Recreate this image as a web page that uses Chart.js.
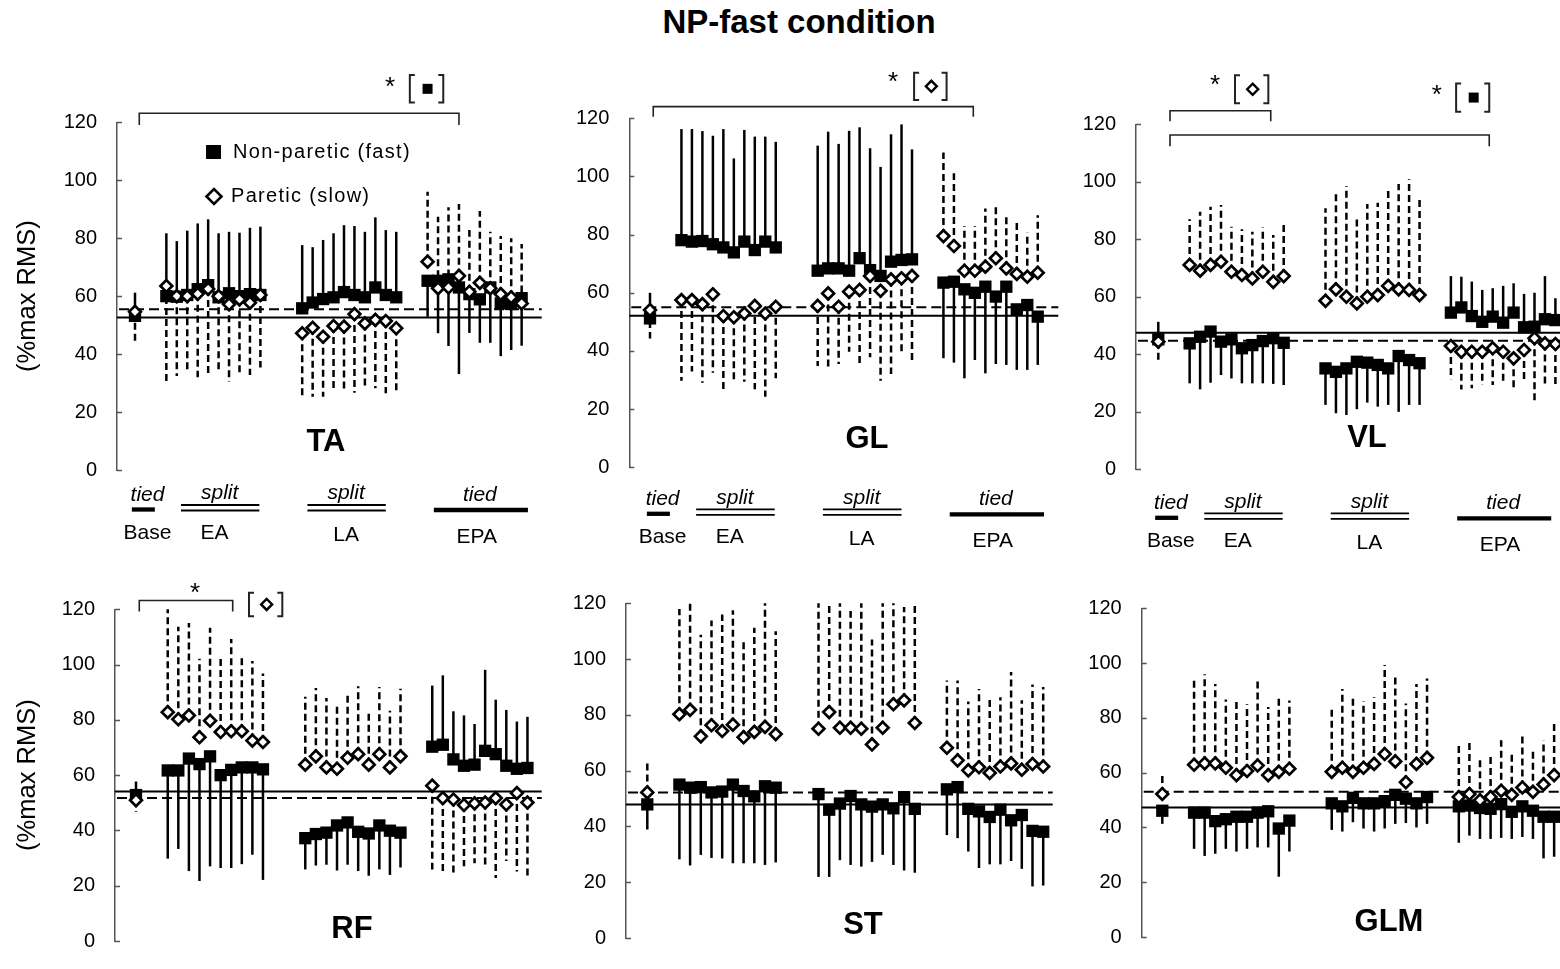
<!DOCTYPE html>
<html><head><meta charset="utf-8">
<script src="https://cdn.jsdelivr.net/npm/chart.js@4.4.1/dist/chart.umd.min.js"></script>
<style>
html,body{margin:0;padding:0;width:1560px;height:969px;overflow:hidden;background:#fff;}
#title{position:absolute;left:19px;width:1560px;top:3px;text-align:center;font:bold 33px "Liberation Sans",Arial,sans-serif;color:#000;}
canvas{position:absolute;}
</style></head><body>
<div id="title">NP-fast condition</div>
<script>
// ---------- data ----------
const phaseNames = ['Base', 'EA', 'LA', 'EPA'];
const phaseFirstIndex = [0, 3, 16, 28];
const yTickValues = [0, 20, 40, 60, 80, 100, 120];
const muscleNames = ['TA', 'GL', 'VL', 'RF', 'ST', 'GLM'];
const seriesNames = ['Non-paretic (fast)', 'Paretic (slow)'];

// order in each array: Base, EA x10, LA x10, EPA x10 (VL: EPA x11)
const TA_np    = [53.2, 60.0,59.8,60.4,62.4,63.8,59.6,61.0,60.0,60.7,60.4, 55.8,57.8,59.0,59.6,61.4,60.4,59.6,63.0,60.4,59.6, 65.3,65.3,65.8,63.0,60.7,58.9,63.0,57.5,57.3,59.3];
const TA_npEnd = [61.2, 81.7,79.0,82.6,85.1,86.5,81.7,82.2,81.9,83.6,84.0, 77.6,76.9,79.4,81.7,84.5,84.2,82.2,87.2,82.8,82.2, 52.9,47.2,42.8,33.1,47.3,43.9,43.9,39.3,41.4,42.9];
const TA_p     = [54.6, 63.5,60.0,60.0,60.8,62.5,60.0,57.2,58.9,57.7,60.4, 47.2,49.1,46.0,49.7,49.5,53.8,50.6,51.8,51.4,48.9, 71.9,62.7,63.0,67.0,61.5,64.6,62.7,60.7,59.6,57.5];
const TA_pEnd  = [43.5, 30.1,32.4,33.4,32.0,33.4,33.4,30.5,32.8,32.8,35.4, 25.1,25.3,25.3,27.4,27.6,26.7,28.2,28.2,26.5,26.7, 96.0,87.4,90.7,91.8,82.8,89.4,82.2,80.8,80.0,78.0];

const GL_np    = [51.2, 78.1,77.6,77.8,76.7,75.6,73.9,77.6,74.7,77.6,75.6, 67.6,68.4,68.4,67.6,71.9,67.8,65.8,70.7,71.3,71.5, 63.5,63.8,61.2,60.0,62.1,58.7,62.1,54.3,55.8,51.8];
const GL_npEnd = [60.0, 116.3,116.3,115.6,114.0,116.3,106.2,116.0,113.7,113.7,111.9, 110.6,115.4,111.2,115.7,116.9,109.7,103.3,114.5,117.9,109.3, 37.5,36.0,30.6,36.9,32.3,35.5,35.2,33.5,33.5,35.2];
const GL_p     = [54.1, 57.5,57.5,56.1,59.5,52.0,51.6,52.9,55.5,52.9,55.2, 55.5,59.8,55.2,60.4,61.0,65.8,60.7,64.6,65.0,65.8, 79.5,76.1,67.6,67.6,69.0,71.9,68.4,66.5,65.5,66.9];
const GL_pEnd  = [44.3, 29.8,32.9,29.1,32.5,25.6,30.0,29.4,26.8,24.3,30.6, 34.8,34.0,35.5,39.7,35.5,37.8,29.8,32.1,39.2,36.9, 108.2,101.1,83.0,83.0,89.0,89.6,86.2,85.4,80.7,86.7];

const VL_np    = [45.2, 43.8,46.1,47.9,44.4,45.2,42.1,43.2,44.6,45.6,44.0, 35.1,33.9,35.1,37.4,37.1,36.3,35.1,39.4,38.0,36.9, 54.5,56.3,53.3,51.3,53.1,51.0,54.5,49.4,49.6,52.2,51.9];
const VL_npEnd = [51.3, 29.9,27.8,30.1,32.8,31.6,29.9,29.9,29.9,29.7,29.3, 22.4,19.5,18.9,20.9,23.2,21.8,22.4,20.0,22.4,22.4, 67.2,67.0,65.3,62.4,63.0,63.8,64.7,61.0,61.4,67.2,59.5];
const VL_p     = [44.4, 71.1,69.1,71.1,72.2,68.7,67.6,66.4,68.7,65.2,67.2, 58.6,62.6,60.0,57.7,60.0,60.6,63.8,62.6,62.4,60.6, 42.9,40.9,40.9,40.9,42.1,40.9,38.6,41.5,45.6,43.8,43.6];
const VL_pEnd  = [37.4, 87.0,89.6,91.3,91.9,84.4,83.5,82.6,84.2,81.5,86.1, 90.8,96.2,98.5,87.3,92.3,92.7,97.7,99.2,100.9,93.7, 31.3,27.8,28.2,29.3,29.3,29.9,28.5,30.5,22.7,28.7,28.5];

const RF_np    = [52.8, 61.7,61.7,66.0,64.0,66.8,60.0,61.9,62.8,62.8,62.1, 37.2,38.7,39.2,41.8,42.9,39.5,38.9,41.8,39.9,39.2, 70.3,71.0,65.7,63.4,63.8,68.8,67.6,63.4,62.3,62.6];
const RF_npEnd = [57.7, 29.8,33.3,25.3,21.7,27.0,26.4,26.4,27.8,31.2,22.1, 25.9,27.3,27.6,25.5,27.6,25.3,23.6,25.9,23.9,26.6, 92.4,96.1,83.1,81.6,78.5,98.1,87.3,83.6,79.4,81.1];
const RF_p     = [50.9, 82.8,80.2,81.6,73.7,79.7,75.6,75.9,75.9,72.5,72.0, 63.8,66.8,62.8,62.3,66.3,67.6,63.8,67.6,62.8,66.8, 56.2,51.7,51.2,49.2,49.8,50.1,51.7,49.4,53.5,50.1];
const RF_pEnd  = [46.7, 120.0,113.7,115.0,102.1,113.3,102.9,109.3,102.9,101.3,96.8, 88.4,91.5,87.9,85.6,90.0,92.2,83.3,91.9,83.3,91.3, 25.9,24.4,24.7,27.0,28.1,27.0,22.8,28.9,25.1,23.6];

const ST_np    = [47.9, 55.0,53.9,54.1,52.2,52.5,55.0,52.7,50.8,54.4,53.9, 51.6,46.0,48.2,50.9,47.9,47.1,47.9,46.5,50.5,46.3, 53.3,54.1,46.3,45.4,43.4,46.0,42.2,44.1,38.4,38.1];
const ST_npEnd = [38.9, 28.2,26.0,29.8,28.7,28.5,26.8,26.8,26.8,26.2,27.1, 21.9,21.9,27.9,26.2,25.6,27.3,29.8,26.2,24.2,23.4, 36.9,35.8,31.0,25.1,26.4,26.4,27.6,24.8,18.5,18.8];
const ST_p     = [52.2, 80.2,81.8,72.3,76.3,74.2,76.5,72.0,73.9,75.7,73.1, 75.0,81.0,75.4,75.4,75.0,69.4,75.4,83.8,85.2,77.1, 68.2,63.7,60.1,61.2,59.2,61.5,62.6,60.3,62.4,61.5];
const ST_pEnd  = [63.7, 118.0,120.0,108.7,113.8,116.0,117.5,107.3,111.2,120.0,110.0, 120.0,119.4,120.0,117.2,120.0,107.0,120.0,120.0,118.7,119.1, 92.3,92.3,84.8,89.3,86.3,86.3,95.4,85.2,90.9,90.0];

const GLM_np    = [46.1, 45.4,45.4,42.3,43.0,43.9,43.9,45.4,45.9,39.6,42.5, 48.8,47.7,50.8,48.8,48.8,49.6,51.9,50.5,48.8,51.1, 47.7,48.0,47.1,46.8,48.5,45.7,47.7,46.1,43.9,43.9];
const GLM_npEnd = [41.3, 32.2,29.6,30.4,32.2,31.2,32.2,32.7,32.7,22.0,31.2, 39.1,38.5,41.9,39.6,38.5,39.6,41.3,41.6,40.0,41.3, 34.4,37.0,35.8,35.8,36.2,35.8,36.5,35.8,28.7,29.3];
const GLM_p     = [52.2, 62.9,63.4,63.4,61.8,59.1,60.6,62.6,59.1,60.3,61.4, 60.3,61.8,60.3,61.8,63.2,66.8,64.1,56.5,63.2,65.4, 51.1,52.2,49.9,51.1,53.4,51.9,54.6,53.0,55.7,59.1];
const GLM_pEnd  = [59.7, 94.4,95.9,92.4,86.7,86.1,85.0,94.7,84.0,88.1,86.3, 84.4,90.5,88.4,86.1,87.5,99.3,95.9,85.2,92.4,94.4, 71.2,71.8,66.0,66.8,71.8,67.5,74.0,69.1,71.8,78.7];

// baseline reference levels (solid = non-paretic, dashed = paretic)
const refLineNP = [52.6, 52.1, 47.5, 54.1, 47.9, 47.3];
const refLineP  = [55.5, 55.0, 44.7, 51.7, 52.2, 53.0];

const seriesByMuscle = {
  TA: [TA_np, TA_npEnd, TA_p, TA_pEnd], GL: [GL_np, GL_npEnd, GL_p, GL_pEnd], VL: [VL_np, VL_npEnd, VL_p, VL_pEnd],
  RF: [RF_np, RF_npEnd, RF_p, RF_pEnd], ST: [ST_np, ST_npEnd, ST_p, ST_pEnd], GLM: [GLM_np, GLM_npEnd, GLM_p, GLM_pEnd]
};

// ---------- layout (page pixels) ----------
const FONT = '"Liberation Sans", Arial, Helvetica, sans-serif';
const geom = {
  TA:  {l:117,   r:541.7,  t:122.3, b:470,   base:135,    unit:10.45, yTitle:true,  top:true, name:[326,442],  phaseDy:0},
  GL:  {l:629.3, r:1058.3, t:118.3, b:467.3, base:650,    unit:10.48, yTitle:false, top:true, name:[867,439],  phaseDy:7},
  VL:  {l:1136,  r:1576,   t:124.3, b:469.3, base:1158.3, unit:10.45, yTitle:false, top:true, name:[1367,438], phaseDy:9},
  RF:  {l:115,   r:541.7,  t:609.3, b:960.7, base:136,    unit:10.58, yTitle:true,  top:false, name:[352,929]},
  ST:  {l:626,   r:1052.7, t:603.3, b:957.3, base:647.3,  unit:10.7,  yTitle:false, top:false, name:[863,925]},
  GLM: {l:1141.7,r:1580,   t:608.3, b:956.7, base:1162.3, unit:10.59, yTitle:false, top:false, name:[1389,922]}
};
const notes = {
  TA: [{k:'bracket',x1:0.41,x2:31.0,y:123.1,drop:4},{k:'star',x:24.4,y:134.6},{k:'box',x1:26.3,x2:29.5,y1:126.8,y2:136.3,sym:'square'}],
  GL: [{k:'bracket',x1:0.31,x2:30.85,y:124.0,drop:3.5},{k:'star',x:23.2,y:134.9},{k:'box',x1:25.2,x2:28.3,y1:126.3,y2:135.7,sym:'diamond'}],
  VL: [{k:'bracket',x1:1.12,x2:10.76,y:124.7,drop:3.6},{k:'star',x:5.43,y:136.1},{k:'box',x1:7.34,x2:10.53,y1:127.3,y2:137.1,sym:'diamond'},
       {k:'bracket',x1:1.12,x2:31.67,y:116.3,drop:3.9},{k:'star',x:26.64,y:132.6},{k:'box',x1:28.5,x2:31.67,y1:124.4,y2:134.2,sym:'square'}],
  RF: [{k:'bracket',x1:0.31,x2:9.14,y:123.2,drop:4},{k:'star',x:5.58,y:128.3},{k:'box',x1:10.68,x2:13.83,y1:117.5,y2:126.0,sym:'diamond'}],
  ST: [], GLM: []
};

function xPositions(n) {
  const counts = [1, 10, 10, n - 21];
  const xs = [];
  counts.forEach((c, p) => { for (let k = 0; k < c; k++) xs.push(phaseFirstIndex[p] + k); });
  return xs;
}

function diamond(ctx, x, y, r) {
  ctx.beginPath(); ctx.moveTo(x - r, y); ctx.lineTo(x, y - r); ctx.lineTo(x + r, y); ctx.lineTo(x, y + r); ctx.closePath();
}

function makePlugin(name, G, idx) {
  const [np, npEnd, p, pEnd] = seriesByMuscle[name];
  const xs = xPositions(np.length);
  return {
    id: 'deco' + name,
    beforeDatasetsDraw(chart) {
      const {ctx, chartArea: a, scales: {x, y}} = chart;
      ctx.save();
      ctx.strokeStyle = '#000';
      ctx.lineWidth = 2;
      ctx.setLineDash([]);
      let yy = y.getPixelForValue(refLineNP[idx]);
      ctx.beginPath(); ctx.moveTo(a.left, yy); ctx.lineTo(a.right, yy); ctx.stroke();
      ctx.setLineDash([10, 5]);
      yy = y.getPixelForValue(refLineP[idx]);
      ctx.beginPath(); ctx.moveTo(a.left + 2, yy); ctx.lineTo(a.right, yy); ctx.stroke();
      ctx.lineWidth = 2.5;
      ctx.setLineDash([]);
      xs.forEach((xi, i) => {
        const px = x.getPixelForValue(xi);
        ctx.beginPath(); ctx.moveTo(px, y.getPixelForValue(np[i])); ctx.lineTo(px, y.getPixelForValue(npEnd[i])); ctx.stroke();
      });
      ctx.setLineDash([7, 4]);
      xs.forEach((xi, i) => {
        const px = x.getPixelForValue(xi);
        ctx.beginPath(); ctx.moveTo(px, y.getPixelForValue(p[i])); ctx.lineTo(px, y.getPixelForValue(pEnd[i])); ctx.stroke();
      });
      ctx.restore();
    },
    afterDraw(chart) {
      const {ctx, chartArea: a, scales: {x, y}} = chart;
      const ox = G.cl, oy = G.ct;
      ctx.save();
      ctx.strokeStyle = '#555'; ctx.lineWidth = 1.5; ctx.setLineDash([]);
      yTickValues.forEach(v => {
        const py = Math.round(y.getPixelForValue(v)) + 0.5;
        ctx.beginPath(); ctx.moveTo(a.left, py); ctx.lineTo(a.left + 5, py); ctx.stroke();
      });
      ctx.fillStyle = '#000'; ctx.strokeStyle = '#000';
      ctx.font = 'bold 31px ' + FONT;
      ctx.textAlign = 'center'; ctx.textBaseline = 'middle';
      ctx.fillText(name, G.name[0] - ox, G.name[1] - oy);
      (notes[name] || []).forEach(n => {
        if (n.k === 'bracket') {
          const X1 = x.getPixelForValue(n.x1), X2 = x.getPixelForValue(n.x2);
          const Y = y.getPixelForValue(n.y), Yd = y.getPixelForValue(n.y - n.drop);
          ctx.lineWidth = 1.6; ctx.strokeStyle = '#222';
          ctx.beginPath(); ctx.moveTo(X1, Yd); ctx.lineTo(X1, Y); ctx.lineTo(X2, Y); ctx.lineTo(X2, Yd); ctx.stroke();
        } else if (n.k === 'star') {
          ctx.font = '26px ' + FONT; ctx.textBaseline = 'alphabetic'; ctx.textAlign = 'center';
          ctx.fillText('*', x.getPixelForValue(n.x), y.getPixelForValue(n.y) + 15);
        } else if (n.k === 'box') {
          const X1 = x.getPixelForValue(n.x1), X2 = x.getPixelForValue(n.x2);
          const Y1 = y.getPixelForValue(n.y2), Y2 = y.getPixelForValue(n.y1);
          ctx.lineWidth = 2; ctx.strokeStyle = '#222';
          ctx.beginPath(); ctx.moveTo(X1 + 5, Y1); ctx.lineTo(X1, Y1); ctx.lineTo(X1, Y2); ctx.lineTo(X1 + 5, Y2); ctx.stroke();
          ctx.beginPath(); ctx.moveTo(X2 - 5, Y1); ctx.lineTo(X2, Y1); ctx.lineTo(X2, Y2); ctx.lineTo(X2 - 5, Y2); ctx.stroke();
          const cx = (X1 + X2) / 2 + 1, cy = (Y1 + Y2) / 2;
          if (n.sym === 'square') { ctx.fillStyle = '#000'; ctx.fillRect(cx - 5, cy - 5, 10, 10); }
          else { ctx.lineWidth = 2.4; ctx.strokeStyle = '#000'; ctx.fillStyle = '#fff'; diamond(ctx, cx, cy, 5.5); ctx.fill(); ctx.stroke(); }
          ctx.fillStyle = '#000';
        }
      });
      if (name === 'TA') {
        ctx.fillStyle = '#000';
        ctx.fillRect(206 - ox, 145 - oy, 15, 14);
        ctx.lineWidth = 2.6; ctx.strokeStyle = '#000'; ctx.fillStyle = '#fff';
        diamond(ctx, 214 - ox, 196.5 - oy, 7.5); ctx.fill(); ctx.stroke();
        ctx.fillStyle = '#000';
        ctx.font = '20px ' + FONT; ctx.textAlign = 'left'; ctx.textBaseline = 'middle';
        try { ctx.letterSpacing = '1.3px'; } catch (e) {}
        ctx.fillText(seriesNames[0], 233 - ox, 152.5 - oy);
        ctx.fillText(seriesNames[1], 231 - ox, 196.5 - oy);
        try { ctx.letterSpacing = '0px'; } catch (e) {}
      }
      if (G.top) {
        const dy = G.b + G.phaseDy - oy;
        const P = v => x.getPixelForValue(v);
        ctx.fillStyle = '#000'; ctx.strokeStyle = '#000'; ctx.textAlign = 'center'; ctx.textBaseline = 'middle';
        ctx.font = 'italic 21px ' + FONT;
        ctx.fillText('tied', P(1.2), dy + 25);
        ctx.fillText('split', P(8.1), dy + 23.5);
        ctx.fillText('split', P(20.2), dy + 23.5);
        ctx.fillText('tied', P(33.0), dy + 25);
        ctx.font = '21px ' + FONT;
        ctx.fillText(phaseNames[0], P(1.2), dy + 63);
        ctx.fillText(phaseNames[1], P(7.6), dy + 63);
        ctx.fillText(phaseNames[2], P(20.2), dy + 65);
        ctx.fillText(phaseNames[3], P(32.7), dy + 67);
        ctx.lineWidth = 4.3;
        ctx.beginPath(); ctx.moveTo(P(-0.3), dy + 39.5); ctx.lineTo(P(1.9), dy + 39.5); ctx.stroke();
        ctx.beginPath(); ctx.moveTo(P(28.6), dy + 40); ctx.lineTo(P(37.6), dy + 40); ctx.stroke();
        ctx.lineWidth = 1.8;
        [[4.4, 11.9], [16.5, 24.0]].forEach(([s, e]) => {
          ctx.beginPath(); ctx.moveTo(P(s), dy + 35); ctx.lineTo(P(e), dy + 35); ctx.stroke();
          ctx.beginPath(); ctx.moveTo(P(s), dy + 40.5); ctx.lineTo(P(e), dy + 40.5); ctx.stroke();
        });
      }
      ctx.restore();
    }
  };
}

muscleNames.forEach((name, idx) => {
  const G = geom[name];
  const [np, npEnd, p, pEnd] = seriesByMuscle[name];
  const xs = xPositions(np.length);
  const padT0 = G.top ? 80 : 42, padB0 = G.top ? 88 : 12;
  const cl = G.yTitle ? 0 : Math.round(G.l - 80);
  const ct = Math.round(G.t - padT0);
  const W = G.l - cl;
  const width = Math.ceil(G.r - cl + 6);
  const height = Math.ceil(G.b - ct + padB0);
  G.cl = cl; G.ct = ct;
  const cv = document.createElement('canvas');
  cv.width = width; cv.height = height;
  cv.style.left = cl + 'px'; cv.style.top = ct + 'px';
  cv.style.width = width + 'px'; cv.style.height = height + 'px';
  document.body.appendChild(cv);
  new Chart(cv, {
    type: 'scatter',
    data: {
      datasets: [
        { label: seriesNames[1], data: xs.map((xv, i) => ({x: xv, y: p[i]})),
          pointStyle: 'rectRot', pointRadius: 5.9, pointBorderWidth: 2.7,
          pointBackgroundColor: '#fff', pointBorderColor: '#000', showLine: false, clip: false },
        { label: seriesNames[0], data: xs.map((xv, i) => ({x: xv, y: np[i]})),
          pointStyle: 'rect', pointRadius: 8.7, pointBorderWidth: 0,
          pointBackgroundColor: '#000', pointBorderColor: '#000', showLine: false, clip: false }
      ]
    },
    options: {
      responsive: false, animation: false, devicePixelRatio: 1,
      layout: { autoPadding: false, padding: { left: 0, top: G.t - ct, bottom: height - (G.b - ct), right: width - (G.r - cl) } },
      plugins: { legend: { display: false }, tooltip: { enabled: false } },
      events: [],
      scales: {
        x: { type: 'linear', display: false, min: (G.l - G.base) / G.unit, max: (G.r - G.base) / G.unit },
        y: {
          min: 0, max: 120,
          afterFit: s => { s.width = W; },
          ticks: { stepSize: 20, color: '#000', padding: 20, font: { family: FONT, size: 20 } },
          grid: { display: false, drawTicks: false },
          border: { display: true, color: '#555', width: 1.5 },
          title: { display: !!G.yTitle, text: '(%max RMS)', color: '#000', font: { family: FONT, size: 25.5 }, padding: { top: 13, bottom: 0 } }
        }
      }
    },
    plugins: [makePlugin(name, G, idx)]
  });
});
</script>
</body></html>
